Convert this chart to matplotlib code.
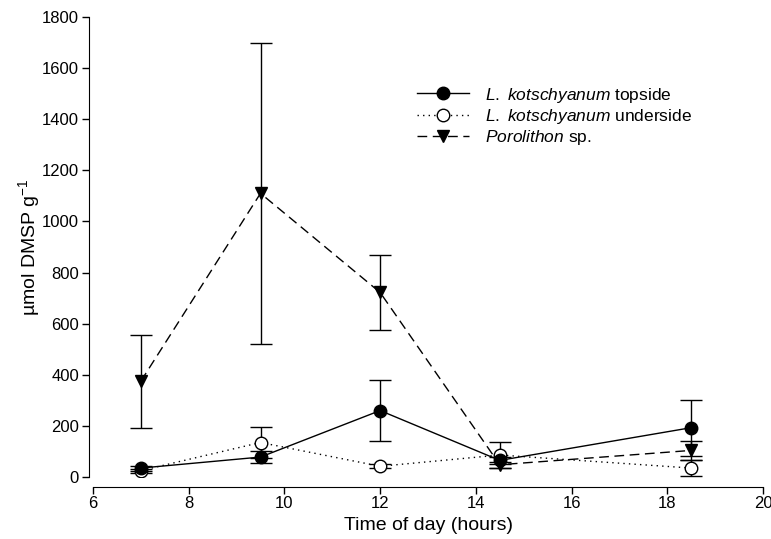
import matplotlib
matplotlib.use("Agg")
import matplotlib.pyplot as plt
from matplotlib.lines import Line2D

plt.rcParams['font.family'] = ['Liberation Sans', 'DejaVu Sans']
plt.rcParams['mathtext.fontset'] = 'custom'
plt.rcParams['mathtext.rm'] = 'Liberation Sans'
plt.rcParams['mathtext.it'] = 'Liberation Sans:italic'

hours = [7, 9.5, 12, 14.5, 18.5]

top_mean = [35, 78, 260, 65, 193]
top_err = [10, 22, 120, 15, 110]

under_mean = [25, 135, 42, 86, 35]
under_err = [8, 62, 8, 52, 30]

poro_mean = [375, 1110, 722, 48, 104]
poro_err = [182, 590, 148, 12, 38]

fig = plt.figure(figsize=(7.71, 5.39), dpi=100)
ax = fig.add_axes([93/771, 1 - 477/539, 670/771, 460/539])

ebkw = dict(ecolor="black", elinewidth=1.0, capsize=8, capthick=1.0)
dash = (0, (7, 4))
dot = (0, (1, 3))

ax.errorbar(hours, poro_mean, yerr=poro_err, color="black", linestyle=dash,
            linewidth=1.0, marker="v", markersize=9, markerfacecolor="black", **ebkw)
ax.errorbar(hours, under_mean, yerr=under_err, color="black", linestyle=dot,
            linewidth=1.0, marker="o", markersize=9, markerfacecolor="white",
            markeredgewidth=1.0, **ebkw)
ax.errorbar(hours, top_mean, yerr=top_err, color="black", linestyle="-",
            linewidth=1.0, marker="o", markersize=9, markerfacecolor="black", **ebkw)

ax.set_xlim(6, 20)
ax.set_ylim(0, 1800)
ax.set_xticks(range(6, 21, 2))
ax.set_yticks(range(0, 1801, 200))

for s in ["top", "right"]:
    ax.spines[s].set_visible(False)
ax.spines["left"].set_position(("outward", 3))
ax.spines["bottom"].set_position(("outward", 7))
ax.tick_params(direction="out", length=5, width=1, labelsize=12, pad=2)

ax.set_xlabel("Time of day (hours)", fontsize=14, labelpad=4)
ax.set_ylabel("\u00b5mol DMSP g$^{-1}$", fontsize=14, labelpad=0)

handles = [
    Line2D([], [], color="black", linestyle="-", linewidth=1.0, marker="o",
           markersize=9, markerfacecolor="black"),
    Line2D([], [], color="black", linestyle=dot, linewidth=1.0, marker="o",
           markersize=9, markerfacecolor="white"),
    Line2D([], [], color="black", linestyle=dash, linewidth=1.0, marker="v",
           markersize=9, markerfacecolor="black"),
]
labels = ["$\\mathit{L.\\ kotschyanum}$ topside",
          "$\\mathit{L.\\ kotschyanum}$ underside",
          "$\\mathit{Porolithon}$ sp."]
ax.legend(handles, labels, loc="upper left", bbox_to_anchor=(0.46, 0.885),
          frameon=False, fontsize=12.5, handlelength=3.0, handletextpad=0.9,
          labelspacing=0.12)

plt.savefig("out.png", dpi=100)
